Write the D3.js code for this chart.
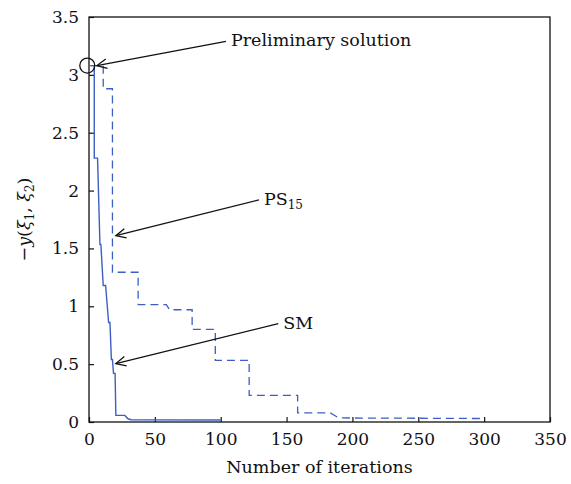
<!DOCTYPE html>
<html>
<head>
<meta charset="utf-8">
<script src="https://cdn.jsdelivr.net/npm/d3@7"></script>
<style>
  body { margin: 0; background: #fff; }
  text { font-family: "DejaVu Serif", serif; fill: #111; }
</style>
</head>
<body>
<script>
// chart size
const w = 571;
const h = 484;
const margin = { top: 17, right: 21, bottom: 62, left: 89 };

// SM curve (solid)
const smIter = [1, 4, 4, 6.5, 8.3, 9, 10.8, 12.6, 14.9, 15.9, 17, 17.8, 18.6, 19.8, 20.4, 27.2, 29.6, 32, 100];
const smValue = [3.08, 3.08, 2.28, 2.28, 1.535, 1.535, 1.18, 1.18, 0.86, 0.86, 0.54, 0.54, 0.42, 0.42, 0.057, 0.057, 0.028, 0.02, 0.017];

// PS15 curve (dashed)
const psIter = [1, 10.8, 10.8, 17.8, 17.8, 37.3, 37.3, 58.7, 61.2, 78.3, 78.3, 95.9, 95.9, 121.6, 121.6, 158.4, 158.4, 183.3, 189.6, 300];
const psValue = [3.08, 3.08, 2.88, 2.88, 1.294, 1.294, 1.015, 1.015, 0.97, 0.97, 0.8, 0.8, 0.533, 0.533, 0.23, 0.23, 0.078, 0.078, 0.035, 0.03];

// tick labels
const xTicks = [0, 50, 100, 150, 200, 250, 300, 350];
const yTicks = [0, 0.5, 1, 1.5, 2, 2.5, 3, 3.5];

// annotations: arrow tip and tail in data units
const notes = [
  { label: "Preliminary solution", sub: "", tip: [6, 3.08], tail: [104, 3.29] },
  { label: "PS", sub: "15", tip: [20.4, 1.61], tail: [129, 1.92] },
  { label: "SM", sub: "", tip: [20.4, 0.505], tail: [143.7, 0.85] }
];

const blue = "#3d5fc4";

const svg = d3.select("body").append("svg").attr("width", w).attr("height", h);

const x = d3.scaleLinear().domain([0, 350]).range([margin.left, w - margin.right]);
const y = d3.scaleLinear().domain([0, 3.5]).range([h - margin.bottom, margin.top]);

// frame
svg.append("rect")
  .attr("x", x(0)).attr("y", y(3.5))
  .attr("width", x(350) - x(0)).attr("height", y(0) - y(3.5))
  .attr("fill", "none").attr("stroke", "#111").attr("stroke-width", 1.3);

// axes with inward ticks
const xAxis = svg.append("g")
  .attr("transform", "translate(0," + y(0) + ")")
  .call(d3.axisBottom(x).tickValues(xTicks).tickSize(-5).tickPadding(11).tickFormat(d3.format("d")));
const yAxis = svg.append("g")
  .attr("transform", "translate(" + x(0) + ",0)")
  .call(d3.axisLeft(y).tickValues(yTicks).tickSize(-5).tickPadding(10).tickFormat(function (d) { return d; }));

[xAxis, yAxis].forEach(function (g) {
  g.attr("font-family", null);
  g.select(".domain").remove();
  g.selectAll(".tick line").attr("stroke", "#111").attr("stroke-width", 1.2);
  g.selectAll(".tick text").attr("font-size", 17).attr("fill", "#111");
});

// lines
const line = d3.line()
  .x(function (d) { return x(d[0]); })
  .y(function (d) { return y(d[1]); });

svg.append("path")
  .datum(d3.zip(psIter, psValue))
  .attr("d", line)
  .attr("fill", "none")
  .attr("stroke", blue)
  .attr("stroke-width", 1.3)
  .attr("stroke-dasharray", "8,5");

svg.append("path")
  .datum(d3.zip(smIter, smValue))
  .attr("d", line)
  .attr("fill", "none")
  .attr("stroke", blue)
  .attr("stroke-width", 1.4);

// circle around the preliminary solution
svg.append("circle")
  .attr("cx", x(-1.3)).attr("cy", y(3.08)).attr("r", 7.5)
  .attr("fill", "none").attr("stroke", "#111").attr("stroke-width", 1.3);

// arrows and labels
notes.forEach(function (n) {
  const x1 = x(n.tail[0]), y1 = y(n.tail[1]);
  const x2 = x(n.tip[0]), y2 = y(n.tip[1]);
  const a = Math.atan2(y1 - y2, x1 - x2);
  const len = 11, spread = 0.45;
  svg.append("line")
    .attr("x1", x1).attr("y1", y1).attr("x2", x2).attr("y2", y2)
    .attr("stroke", "#111").attr("stroke-width", 1.3);
  svg.append("path")
    .attr("d", "M" + (x2 + len * Math.cos(a + spread)) + "," + (y2 + len * Math.sin(a + spread)) +
      "L" + x2 + "," + y2 +
      "L" + (x2 + len * Math.cos(a - spread)) + "," + (y2 + len * Math.sin(a - spread)))
    .attr("fill", "none").attr("stroke", "#111").attr("stroke-width", 1.3);
  const t = svg.append("text")
    .attr("x", x1 + 5).attr("y", y1 + 5)
    .attr("font-size", 17.5)
    .text(n.label);
  if (n.sub) {
    t.append("tspan").attr("font-size", 12).attr("dy", 4).text(n.sub);
  }
});

// axis titles
svg.append("text")
  .attr("x", (x(0) + x(350)) / 2).attr("y", 473)
  .attr("text-anchor", "middle").attr("font-size", 17.5)
  .text("Number of iterations");

const yl = svg.append("text")
  .attr("transform", "translate(30," + (y(0) + y(3.5)) / 2 + ") rotate(-90)")
  .attr("text-anchor", "middle").attr("font-size", 17.5);
yl.append("tspan").text("\u2212");
yl.append("tspan").attr("font-style", "italic").text("y");
yl.append("tspan").text("(");
yl.append("tspan").attr("font-style", "italic").text("\u03be");
yl.append("tspan").attr("font-size", 12).attr("dy", 4).text("1");
yl.append("tspan").attr("dy", -4).text(", ");
yl.append("tspan").attr("font-style", "italic").text("\u03be");
yl.append("tspan").attr("font-size", 12).attr("dy", 4).text("2");
yl.append("tspan").attr("dy", -4).text(")");
</script>
</body>
</html>
